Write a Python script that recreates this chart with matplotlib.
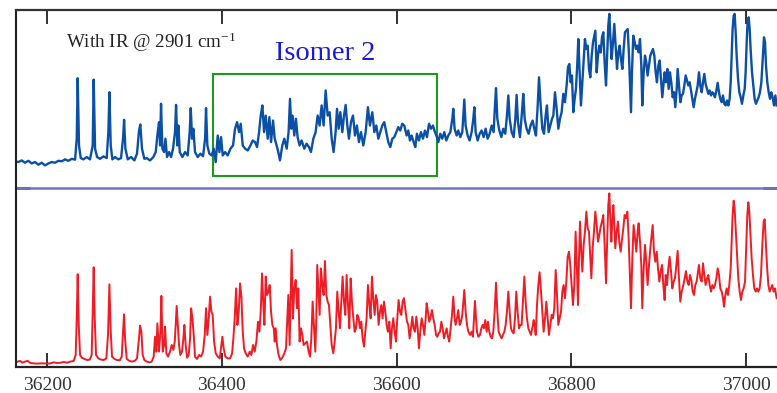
import numpy as np
import matplotlib.pyplot as plt
from matplotlib.patches import Rectangle

plt.rcParams['font.family'] = ['Liberation Serif', 'DejaVu Serif']
plt.rcParams['mathtext.fontset'] = 'custom'
plt.rcParams['mathtext.rm'] = 'Liberation Serif'
plt.rcParams['mathtext.it'] = 'Liberation Serif:italic'

# (wavenumber in cm-1, normalised signal) (with IR)
ir_on = [
    (36163.4, .150), (36167.2, .146), (36171.0, .155), (36174.8, .142), (36178.7, .153),
    (36182.5, .138), (36186.3, .146), (36190.1, .131), (36193.9, .142), (36197.7, .127),
    (36201.5, .138), (36205.4, .146), (36209.2, .142), (36213.0, .153), (36216.8, .150),
    (36220.6, .161), (36224.4, .153), (36228.3, .164), (36232.1, .159), (36234.0, .277),
    (36235.1, .617), (36236.6, .239), (36238.6, .168), (36241.6, .161), (36245.4, .174),
    (36249.2, .161), (36252.3, .239), (36253.4, .609), (36255.0, .221), (36257.3, .174),
    (36260.7, .164), (36264.5, .178), (36268.3, .168), (36270.2, .314), (36271.4, .538),
    (36272.9, .239), (36274.8, .161), (36277.9, .174), (36281.7, .161), (36284.7, .168),
    (36287.0, .277), (36288.2, .383), (36289.7, .221), (36292.4, .161), (36296.2, .174),
    (36300.0, .155), (36303.0, .193), (36305.3, .323), (36306.8, .357), (36308.7, .221),
    (36311.4, .164), (36314.1, .168), (36317.9, .155), (36321.7, .174), (36324.4, .202),
    (36326.7, .314), (36328.2, .370), (36329.4, .239), (36330.5, .473), (36332.0, .221),
    (36334.0, .202), (36335.5, .277), (36337.4, .174), (36339.7, .202), (36342.0, .174),
    (36344.2, .221), (36346.5, .314), (36347.7, .467), (36349.2, .239), (36350.4, .351),
    (36351.9, .202), (36354.9, .174), (36358.0, .202), (36361.0, .183), (36363.3, .314),
    (36364.5, .449), (36366.0, .277), (36367.5, .333), (36369.4, .202), (36372.5, .174),
    (36375.5, .193), (36378.6, .179), (36380.9, .277), (36382.0, .449), (36383.5, .239),
    (36385.8, .193), (36388.5, .183), (36390.8, .221), (36393.1, .146), (36395.4, .295),
    (36397.3, .202), (36399.2, .286), (36401.1, .183), (36403.8, .202), (36406.8, .183),
    (36409.9, .221), (36412.9, .239), (36415.2, .333), (36417.5, .370), (36419.8, .314),
    (36421.7, .361), (36424.0, .239), (36426.7, .221), (36429.7, .211), (36432.8, .239),
    (36435.4, .267), (36438.1, .258), (36440.4, .230), (36442.7, .314), (36444.6, .407),
    (36446.5, .464), (36448.4, .314), (36450.3, .407), (36452.6, .277), (36454.5, .398),
    (36456.4, .258), (36458.7, .379), (36460.6, .277), (36462.8, .239), (36464.7, .202),
    (36466.6, .155), (36469.3, .239), (36471.6, .277), (36474.3, .221), (36476.5, .314),
    (36478.1, .501), (36479.6, .333), (36481.1, .407), (36483.0, .295), (36484.9, .389),
    (36486.8, .286), (36489.1, .239), (36491.4, .267), (36494.5, .221), (36497.1, .249),
    (36499.8, .230), (36502.1, .202), (36504.8, .277), (36507.4, .314), (36509.7, .407),
    (36512.0, .351), (36514.3, .464), (36516.6, .351), (36518.9, .548), (36521.2, .407),
    (36523.5, .426), (36525.8, .277), (36528.0, .202), (36530.3, .314), (36531.9, .445),
    (36533.8, .333), (36535.7, .426), (36538.0, .314), (36539.9, .407), (36541.8, .467),
    (36543.7, .351), (36545.6, .277), (36547.9, .370), (36550.2, .407), (36552.5, .295),
    (36554.7, .351), (36557.0, .258), (36559.3, .314), (36562.0, .239), (36564.7, .314),
    (36567.3, .454), (36569.6, .351), (36572.3, .426), (36574.6, .314), (36576.9, .351),
    (36579.2, .277), (36581.5, .314), (36583.7, .351), (36586.0, .370), (36588.3, .314),
    (36590.6, .258), (36592.9, .230), (36595.2, .277), (36597.5, .286), (36599.8, .314),
    (36602.1, .342), (36604.3, .323), (36606.6, .361), (36608.9, .351), (36611.6, .295),
    (36613.5, .323), (36615.4, .267), (36617.3, .295), (36619.6, .258), (36621.5, .230),
    (36623.4, .305), (36625.7, .267), (36628.0, .314), (36630.3, .277), (36632.6, .323),
    (36634.9, .286), (36637.2, .361), (36639.5, .333), (36641.7, .351), (36644.0, .314),
    (36646.3, .286), (36647.9, .258), (36650.1, .305), (36652.4, .277), (36654.7, .314),
    (36657.0, .267), (36659.3, .295), (36661.6, .314), (36663.9, .389), (36665.0, .445),
    (36666.5, .333), (36668.8, .295), (36670.7, .323), (36673.0, .286), (36675.3, .314),
    (36676.5, .407), (36677.6, .497), (36679.1, .351), (36681.4, .295), (36683.7, .267),
    (36686.0, .314), (36687.9, .389), (36689.1, .454), (36690.6, .314), (36692.9, .267),
    (36695.2, .305), (36697.4, .323), (36699.7, .286), (36702.0, .333), (36704.3, .277),
    (36706.6, .305), (36708.9, .351), (36711.2, .314), (36712.7, .464), (36713.9, .561),
    (36715.4, .389), (36717.7, .323), (36720.0, .286), (36722.2, .333), (36724.5, .305),
    (36726.4, .407), (36728.0, .520), (36729.5, .389), (36731.8, .314), (36734.1, .286),
    (36736.0, .389), (36737.5, .523), (36739.0, .370), (36741.3, .286), (36743.6, .426),
    (36745.1, .529), (36746.7, .389), (36748.9, .333), (36751.2, .305), (36753.5, .351),
    (36755.8, .379), (36757.7, .333), (36759.6, .295), (36761.6, .464), (36763.1, .622),
    (36765.0, .464), (36766.9, .333), (36768.8, .305), (36770.7, .407), (36772.2, .464),
    (36774.1, .314), (36776.0, .351), (36778.0, .389), (36779.5, .407), (36781.4, .538),
    (36783.3, .445), (36785.2, .333), (36787.1, .389), (36789.0, .426), (36790.9, .529),
    (36792.8, .482), (36794.7, .576), (36796.3, .679), (36797.8, .697), (36799.3, .594),
    (36800.8, .632), (36802.4, .426), (36803.9, .501), (36805.4, .557), (36807.0, .707),
    (36808.1, .837), (36809.6, .650), (36811.1, .464), (36812.7, .594), (36814.2, .725),
    (36815.7, .837), (36817.3, .781), (36818.8, .800), (36820.3, .669), (36821.8, .622),
    (36823.4, .744), (36824.9, .819), (36826.4, .856), (36827.6, .884), (36829.1, .650),
    (36830.6, .744), (36832.1, .800), (36833.7, .762), (36835.2, .847), (36836.7, .875),
    (36838.2, .707), (36839.8, .576), (36841.3, .762), (36842.4, .912), (36843.6, .978),
    (36844.7, .856), (36846.2, .725), (36847.8, .819), (36849.3, .922), (36850.8, .800),
    (36852.4, .669), (36853.9, .762), (36855.4, .800), (36856.9, .725), (36858.5, .669),
    (36860.0, .781), (36861.5, .875), (36863.0, .884), (36864.6, .893), (36866.1, .744),
    (36867.6, .538), (36868.4, .426), (36869.5, .650), (36871.0, .856), (36872.6, .819),
    (36874.1, .781), (36875.6, .800), (36877.1, .762), (36878.7, .837), (36880.2, .688),
    (36881.3, .464), (36882.9, .650), (36884.4, .744), (36885.9, .707), (36887.4, .632),
    (36889.0, .688), (36890.5, .744), (36892.0, .762), (36893.5, .781), (36895.1, .744),
    (36896.6, .650), (36898.1, .594), (36899.7, .688), (36901.2, .716), (36902.7, .613),
    (36904.2, .510), (36905.8, .594), (36906.9, .650), (36908.4, .594), (36910.0, .669),
    (36911.5, .557), (36913.0, .650), (36914.5, .594), (36916.1, .510), (36917.6, .538),
    (36919.1, .454), (36920.7, .557), (36921.8, .669), (36923.3, .576), (36924.9, .482),
    (36926.4, .520), (36927.9, .529), (36929.4, .576), (36931.0, .632), (36932.5, .604),
    (36934.0, .576), (36935.5, .594), (36937.1, .548), (36938.6, .501), (36940.1, .454),
    (36941.6, .501), (36943.2, .538), (36944.7, .576), (36946.2, .650), (36947.7, .576),
    (36949.3, .538), (36950.8, .594), (36952.3, .641), (36953.8, .585), (36955.4, .557),
    (36956.9, .529), (36958.4, .548), (36960.0, .520), (36961.5, .538), (36963.0, .529),
    (36964.5, .510), (36966.1, .548), (36967.6, .591), (36969.1, .538), (36970.6, .501),
    (36972.2, .482), (36973.7, .520), (36975.2, .473), (36976.7, .464), (36978.3, .492),
    (36979.8, .464), (36981.3, .501), (36982.5, .594), (36983.6, .744), (36984.7, .893),
    (36985.9, .968), (36987.0, .978), (36988.2, .875), (36989.3, .744), (36990.9, .613),
    (36992.4, .538), (36993.9, .510), (36995.4, .473), (36997.0, .520), (36998.5, .557),
    (36999.6, .650), (37000.8, .819), (37001.9, .940), (37003.1, .959), (37004.2, .893),
    (37005.3, .781), (37006.9, .650), (37008.4, .576), (37009.9, .501), (37011.4, .473),
    (37013.0, .492), (37014.5, .510), (37016.0, .538), (37017.6, .594), (37019.1, .725),
    (37020.6, .847), (37021.8, .819), (37022.9, .688), (37024.4, .594), (37026.0, .538),
    (37027.5, .501), (37029.0, .538), (37030.5, .510), (37032.1, .464), (37033.6, .520),
    (37035.1, .464),
]

# (wavenumber in cm-1, normalised signal)
ir_off = [
    (36163.4, .020), (36166.5, .030), (36169.1, .034), (36171.8, .024), (36174.8, .030),
    (36177.9, .034), (36180.9, .022), (36184.8, .020), (36188.6, .019), (36192.4, .020),
    (36196.2, .020), (36200.0, .019), (36203.8, .020), (36207.6, .026), (36211.5, .022),
    (36215.3, .024), (36219.1, .028), (36222.9, .024), (36226.7, .030), (36230.5, .034),
    (36232.8, .067), (36234.0, .272), (36235.1, .518), (36236.3, .235), (36237.8, .067),
    (36239.7, .052), (36242.8, .045), (36245.8, .039), (36248.9, .041), (36251.1, .067),
    (36252.3, .309), (36253.4, .557), (36254.6, .272), (36256.1, .067), (36258.8, .048),
    (36261.8, .041), (36264.9, .039), (36267.9, .048), (36269.8, .179), (36271.4, .462),
    (36272.9, .197), (36274.4, .058), (36277.1, .045), (36280.1, .039), (36283.2, .037),
    (36285.5, .058), (36287.0, .197), (36288.2, .294), (36289.3, .160), (36291.2, .045),
    (36294.3, .034), (36297.3, .030), (36300.4, .034), (36303.0, .048), (36304.9, .142),
    (36306.5, .231), (36308.0, .197), (36309.5, .067), (36311.4, .039), (36314.1, .030),
    (36317.2, .026), (36319.8, .030), (36322.1, .058), (36323.6, .169), (36325.2, .086),
    (36326.3, .244), (36328.2, .086), (36329.8, .197), (36330.9, .397), (36332.4, .086),
    (36334.0, .123), (36335.1, .225), (36336.6, .076), (36338.5, .058), (36340.8, .086),
    (36342.7, .123), (36344.6, .095), (36346.2, .142), (36347.3, .235), (36348.4, .341),
    (36350.0, .216), (36351.1, .123), (36352.6, .067), (36354.5, .086), (36356.1, .160),
    (36357.2, .235), (36358.7, .123), (36360.3, .052), (36362.2, .067), (36363.7, .160),
    (36364.9, .328), (36366.4, .272), (36367.9, .179), (36369.4, .058), (36371.7, .045),
    (36374.0, .067), (36376.3, .058), (36378.6, .086), (36380.5, .179), (36382.0, .328),
    (36383.5, .179), (36385.1, .272), (36386.6, .393), (36388.1, .309), (36389.6, .291),
    (36391.2, .142), (36393.1, .076), (36395.4, .058), (36397.7, .048), (36399.6, .123),
    (36400.7, .169), (36402.2, .104), (36404.1, .058), (36406.8, .048), (36409.5, .048),
    (36411.8, .076), (36413.3, .160), (36414.8, .272), (36416.4, .439), (36417.9, .235),
    (36419.4, .309), (36420.9, .467), (36422.5, .393), (36424.0, .197), (36425.5, .104),
    (36427.4, .076), (36429.7, .058), (36432.0, .086), (36433.9, .067), (36435.8, .123),
    (36437.7, .086), (36439.6, .142), (36441.5, .253), (36443.1, .197), (36444.6, .309),
    (36446.1, .523), (36447.6, .346), (36448.8, .235), (36450.3, .505), (36451.8, .402),
    (36453.4, .421), (36454.9, .458), (36456.4, .309), (36457.9, .235), (36459.5, .216),
    (36460.6, .142), (36461.7, .216), (36463.2, .123), (36465.1, .067), (36467.0, .039),
    (36469.3, .052), (36471.6, .076), (36473.5, .104), (36475.0, .272), (36476.2, .402),
    (36477.7, .123), (36478.8, .365), (36480.0, .654), (36481.5, .272), (36483.0, .439),
    (36484.6, .486), (36486.1, .328), (36487.6, .439), (36489.1, .142), (36490.7, .216),
    (36492.2, .179), (36493.7, .123), (36495.6, .132), (36497.5, .142), (36499.4, .086),
    (36501.0, .058), (36502.5, .160), (36504.0, .365), (36505.5, .235), (36507.1, .086),
    (36508.2, .272), (36509.3, .570), (36510.9, .402), (36512.0, .291), (36513.5, .551),
    (36515.1, .458), (36516.6, .402), (36518.1, .592), (36519.7, .402), (36521.2, .365),
    (36522.7, .346), (36524.2, .235), (36525.8, .123), (36527.7, .076), (36529.2, .142),
    (36530.7, .216), (36532.2, .421), (36533.8, .309), (36535.3, .216), (36536.8, .365),
    (36538.3, .505), (36539.9, .365), (36541.4, .291), (36542.9, .514), (36544.5, .346),
    (36546.0, .216), (36547.5, .495), (36549.0, .365), (36550.6, .272), (36552.1, .197),
    (36553.6, .216), (36555.1, .291), (36556.7, .272), (36558.2, .216), (36559.7, .253),
    (36561.2, .160), (36562.8, .114), (36564.3, .197), (36565.8, .272), (36567.3, .458),
    (36568.9, .346), (36570.4, .272), (36571.9, .505), (36573.4, .384), (36575.0, .291),
    (36576.5, .402), (36578.0, .365), (36579.5, .235), (36581.1, .309), (36582.6, .346),
    (36584.1, .272), (36585.7, .365), (36587.2, .309), (36588.7, .235), (36590.2, .197),
    (36591.8, .253), (36593.3, .104), (36594.8, .216), (36596.3, .272), (36597.9, .197),
    (36599.4, .142), (36600.9, .272), (36602.4, .374), (36604.0, .309), (36605.5, .291),
    (36607.0, .365), (36608.5, .384), (36610.5, .309), (36612.0, .253), (36613.5, .235),
    (36615.0, .160), (36616.6, .216), (36618.1, .281), (36619.6, .216), (36621.1, .197),
    (36622.7, .281), (36624.2, .216), (36625.7, .104), (36627.2, .197), (36628.8, .272),
    (36630.3, .235), (36631.8, .179), (36633.4, .272), (36634.5, .356), (36636.0, .309),
    (36637.5, .253), (36639.1, .281), (36640.6, .318), (36642.1, .272), (36643.7, .235),
    (36645.2, .179), (36646.7, .169), (36648.2, .188), (36649.8, .197), (36651.3, .253),
    (36652.8, .216), (36654.3, .160), (36655.9, .188), (36657.4, .216), (36658.9, .169),
    (36660.4, .142), (36662.0, .216), (36663.5, .291), (36665.0, .393), (36666.5, .272),
    (36667.7, .235), (36669.2, .272), (36670.7, .318), (36672.3, .235), (36673.8, .253),
    (36675.3, .291), (36676.5, .365), (36677.6, .430), (36679.1, .309), (36680.7, .235),
    (36682.2, .197), (36684.1, .179), (36686.0, .197), (36687.5, .169), (36688.7, .272),
    (36689.8, .369), (36691.0, .272), (36692.1, .197), (36693.6, .169), (36695.5, .179),
    (36697.1, .216), (36698.6, .235), (36700.1, .216), (36701.6, .262), (36703.2, .197),
    (36704.7, .253), (36706.2, .197), (36707.7, .169), (36709.3, .160), (36710.8, .197),
    (36712.3, .309), (36713.9, .471), (36715.4, .309), (36716.9, .197), (36718.4, .179),
    (36720.3, .160), (36721.9, .179), (36723.4, .197), (36724.9, .235), (36726.4, .309),
    (36728.0, .421), (36729.5, .309), (36731.0, .216), (36732.5, .197), (36734.1, .188),
    (36735.6, .272), (36737.1, .421), (36738.6, .309), (36740.2, .216), (36741.7, .235),
    (36743.2, .235), (36744.7, .365), (36746.3, .505), (36747.8, .365), (36749.3, .272),
    (36750.9, .216), (36752.4, .197), (36753.9, .179), (36755.4, .216), (36757.0, .262),
    (36758.1, .235), (36759.3, .179), (36760.8, .346), (36762.3, .458), (36763.8, .529),
    (36765.4, .421), (36766.9, .309), (36768.4, .197), (36770.0, .272), (36771.5, .365),
    (36773.0, .272), (36774.5, .179), (36776.1, .235), (36777.6, .291), (36779.1, .272),
    (36780.6, .328), (36782.2, .542), (36783.7, .402), (36785.2, .235), (36786.7, .272),
    (36788.3, .309), (36789.8, .421), (36791.3, .458), (36792.8, .384), (36794.4, .477),
    (36795.9, .616), (36797.4, .644), (36798.9, .570), (36800.5, .458), (36802.0, .346),
    (36803.5, .458), (36805.0, .756), (36806.6, .533), (36807.7, .346), (36808.9, .607),
    (36810.0, .812), (36811.5, .644), (36812.7, .533), (36814.2, .682), (36815.7, .756),
    (36817.3, .868), (36818.8, .775), (36820.3, .756), (36821.8, .607), (36823.0, .495),
    (36824.5, .663), (36826.0, .756), (36827.6, .868), (36829.1, .793), (36830.6, .700),
    (36832.1, .737), (36833.7, .784), (36835.2, .812), (36836.7, .849), (36838.2, .682),
    (36839.8, .467), (36841.3, .737), (36842.4, .905), (36843.6, .970), (36844.7, .831),
    (36845.9, .700), (36847.0, .812), (36848.2, .905), (36849.3, .793), (36850.4, .663),
    (36852.0, .756), (36853.5, .812), (36855.0, .700), (36856.5, .644), (36858.1, .709),
    (36859.6, .775), (36861.1, .849), (36862.6, .831), (36864.2, .868), (36865.7, .719),
    (36867.2, .495), (36868.4, .328), (36869.9, .607), (36871.4, .793), (36873.0, .719),
    (36874.5, .644), (36876.0, .756), (36877.1, .803), (36878.7, .700), (36880.2, .570),
    (36881.3, .328), (36882.9, .551), (36884.4, .682), (36885.9, .588), (36887.4, .458),
    (36889.0, .570), (36890.5, .663), (36892.0, .737), (36893.2, .793), (36894.7, .644),
    (36896.2, .588), (36897.8, .644), (36899.3, .551), (36900.8, .477), (36902.3, .533),
    (36903.9, .570), (36905.4, .458), (36906.9, .374), (36908.1, .514), (36909.6, .458),
    (36911.1, .551), (36912.6, .616), (36914.2, .533), (36915.7, .439), (36917.2, .477),
    (36918.7, .495), (36920.3, .570), (36921.8, .648), (36923.3, .495), (36924.8, .365),
    (36926.4, .421), (36928.3, .458), (36929.8, .495), (36931.3, .536), (36932.9, .477),
    (36934.4, .458), (36935.9, .514), (36937.4, .486), (36939.0, .421), (36940.5, .402),
    (36942.0, .458), (36943.5, .477), (36945.1, .533), (36946.2, .570), (36947.7, .495),
    (36949.3, .477), (36950.8, .579), (36952.3, .514), (36953.8, .458), (36955.4, .495),
    (36956.9, .514), (36958.4, .458), (36960.0, .421), (36961.5, .458), (36963.0, .439),
    (36964.5, .458), (36966.1, .495), (36967.6, .551), (36969.1, .514), (36970.6, .439),
    (36972.2, .421), (36973.7, .384), (36974.8, .337), (36976.4, .402), (36977.9, .439),
    (36979.4, .402), (36980.9, .458), (36982.5, .551), (36983.6, .700), (36984.7, .849),
    (36985.9, .929), (36987.0, .886), (36988.2, .775), (36989.7, .644), (36991.2, .495),
    (36992.8, .421), (36994.3, .374), (36995.8, .421), (36997.3, .439), (36998.9, .477),
    (37000.4, .682), (37001.5, .849), (37002.7, .920), (37003.8, .868), (37005.0, .756),
    (37006.5, .607), (37008.0, .514), (37009.5, .439), (37011.1, .421), (37012.6, .439),
    (37014.1, .421), (37015.6, .439), (37017.2, .514), (37018.7, .682), (37020.2, .812),
    (37021.4, .825), (37022.5, .719), (37024.0, .570), (37025.6, .458), (37027.1, .421),
    (37028.6, .439), (37030.1, .458), (37031.7, .421), (37033.2, .439), (37035.1, .384),
]

xticks = [36200, 36400, 36600, 36800, 37000]
xlim = (36164.5, 37035.5)
box_x = (36389.5, 36646.0)   # green frame around the isomer 2 region
box_y = (0.067, 0.639)

fig = plt.figure(figsize=(7.77, 3.93), dpi=100)
ax1 = fig.add_axes([0.0206, 0.5216, 0.9794, 0.4529])
ax2 = fig.add_axes([0.0206, 0.0662, 0.9794, 0.4555])

wn, sig = np.array(ir_on).T
ax1.plot(wn, sig, color='#0b50a5', lw=1.7)
wn, sig = np.array(ir_off).T
ax2.plot(wn, sig, color='#ee1c25', lw=1.4)

for ax in (ax1, ax2):
    ax.set_xlim(*xlim)
    ax.set_ylim(0, 1)
    ax.set_xticks(xticks)
    ax.spines['right'].set_visible(False)
    ax.spines['left'].set_linewidth(1.5)
    ax.spines['left'].set_color('#222222')

ax1.set_yticks([])
ax1.tick_params(axis='x', top=True, bottom=False, labelbottom=False,
                direction='in', length=10, width=1.3, color='#222222')
ax1.spines['top'].set_linewidth(1.6)
ax1.spines['top'].set_color('#333333')
ax1.spines['bottom'].set_visible(False)

# short black marks where the divider meets the frame
ax2.set_yticks([1.0])
ax2.tick_params(axis='y', left=True, right=True, labelleft=False, direction='in',
                length=10, width=1.8, color='#222222')
ax2.tick_params(axis='x', direction='in', length=10, width=1.3, color='#222222',
                labelsize=14, labelcolor='#333333', pad=7)
ax2.spines['top'].set_linewidth(1.8)
ax2.spines['top'].set_color('#7474c2')
ax2.spines['top'].set_zorder(2)
ax2.spines['bottom'].set_linewidth(1.6)
ax2.spines['bottom'].set_color('#222222')

ax1.add_patch(Rectangle((box_x[0], box_y[0]), box_x[1] - box_x[0], box_y[1] - box_y[0],
                        fill=False, edgecolor='#1c9a1c', lw=1.5))

ax1.text(0.066, 0.788, 'With IR @ 2901 cm$^{-1}$', transform=ax1.transAxes,
         fontsize=13.7, color='#222222', va='baseline', ha='left')
ax1.text(36461, 0.719, 'Isomer 2', transform=ax1.transData,
         fontsize=20.5, color='#1a1ad8', va='baseline', ha='left')

fig.savefig('out.png', dpi=100)
